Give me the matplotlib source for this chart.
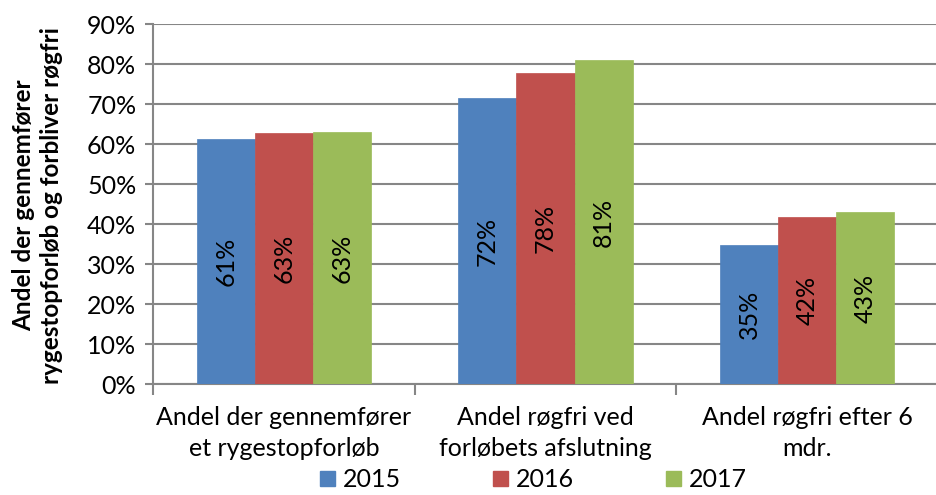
import matplotlib
matplotlib.use("Agg")
import matplotlib.pyplot as plt
from matplotlib.patches import Patch
import numpy as np

categories = ["Andel der gennemfører\net rygestopforløb",
              "Andel røgfri ved\nforløbets afslutning",
              "Andel røgfri efter 6\nmdr."]
years = ["2015", "2016", "2017"]
values = {
    "2015": [0.6125, 0.715, 0.3475],
    "2016": [0.6275, 0.7775, 0.4175],
    "2017": [0.63, 0.81, 0.43],
}
labels = {
    "2015": ["61%", "72%", "35%"],
    "2016": ["63%", "78%", "42%"],
    "2017": ["63%", "81%", "43%"],
}
colors = ["#4F81BD", "#C0504D", "#9BBB59"]
yticks = [0, 0.1, 0.2, 0.3, 0.4, 0.5, 0.6, 0.7, 0.8, 0.9]
ylabel = "Andel der gennemfører\nrygestopforløb og forbliver røgfri"

plt.rcParams['font.family'] = ['Lato', 'DejaVu Sans']
fs = 18

fig = plt.figure(figsize=(9.36, 4.95), dpi=100)
ax = fig.add_axes([153/936, 1 - 384/495, (938 - 153)/936, 360/495])

x = np.arange(len(categories))
w = 1 / 4.5
for i, (yr, c) in enumerate(zip(years, colors)):
    bars = ax.bar(x + (i - 1) * w, values[yr], width=w, color=c, zorder=3,
                  edgecolor=c, linewidth=0.5)
    for b, lab in zip(bars, labels[yr]):
        ax.text(b.get_x() + b.get_width() / 2, b.get_height() / 2, lab,
                rotation=90, ha="center", va="center", fontsize=fs, zorder=4)

ax.set_xlim(-0.5, 2.5)
ax.set_ylim(0, 0.9)
ax.set_yticks(yticks)
ax.set_yticklabels([f"{int(round(t*100))}%" for t in yticks], fontsize=fs)
ax.yaxis.grid(True, color="#868686", linewidth=1.5, zorder=0)
ax.set_axisbelow(True)

ax.set_xticks(x)
ax.set_xticklabels(categories, fontsize=fs, linespacing=1.4)
ax.set_xticks([-0.5, 0.5, 1.5, 2.5], minor=True)
ax.tick_params(axis="x", which="major", length=0, pad=16)
ax.tick_params(axis="x", which="minor", length=8, width=1.5, color="#868686")
ax.tick_params(axis="y", length=6, width=1.5, color="#868686", pad=6)

for s in ["top", "right"]:
    ax.spines[s].set_visible(False)
for s in ["left", "bottom"]:
    ax.spines[s].set_color("#868686")
    ax.spines[s].set_linewidth(1.5)

fig.text(0.04, 0.585, ylabel, rotation=90, ha="center", va="center",
         fontsize=17.5, fontweight="bold", linespacing=1.25)

handles = [Patch(facecolor=c, edgecolor=c) for c in colors]
fig.legend(handles, years, loc="lower center", bbox_to_anchor=(0.57, -0.038),
           ncol=3, frameon=False, fontsize=fs, handlelength=0.6, handleheight=0.6,
           handletextpad=0.3, columnspacing=3.7)

fig.savefig("out.png", dpi=100)
